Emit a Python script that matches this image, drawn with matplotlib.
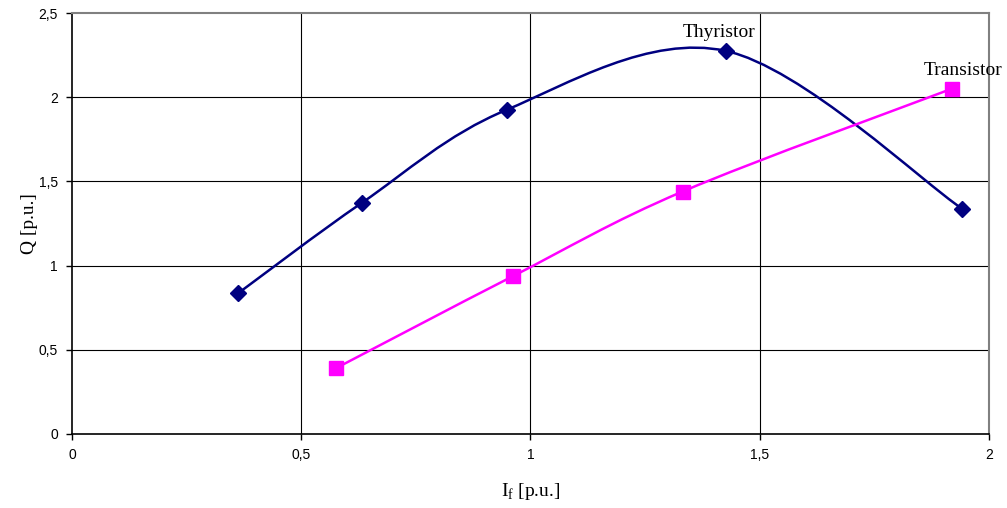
import matplotlib
matplotlib.use("Agg")
import matplotlib.pyplot as plt
from matplotlib.path import Path
from matplotlib.patches import PathPatch
import numpy as np

thy_x = [0.362, 0.633, 0.948, 1.426, 1.941]
thy_y = [0.835, 1.374, 1.925, 2.275, 1.339]
tra_x = [0.576, 0.961, 1.332, 1.919]
tra_y = [0.391, 0.936, 1.440, 2.050]
x_ticks = [0, 0.5, 1, 1.5, 2]
x_ticklabels = ["0", "0,5", "1", "1,5", "2"]
y_ticks = [0, 0.5, 1, 1.5, 2, 2.5]
y_ticklabels = ["0", "0,5", "1", "1,5", "2", "2,5"]

NAVY = "#000080"
MAGENTA = "#FF00FF"


def smooth_path(xs, ys):
    p = np.column_stack([xs, ys])
    n = len(p)
    verts = [tuple(p[0])]
    codes = [Path.MOVETO]
    for i in range(n - 1):
        p0 = p[i - 1] if i > 0 else p[i]
        p1 = p[i]
        p2 = p[i + 1]
        p3 = p[i + 2] if i + 2 < n else p[i + 1]
        c1 = p1 + (p2 - p0) / 6.0
        c2 = p2 - (p3 - p1) / 6.0
        verts += [tuple(c1), tuple(c2), tuple(p2)]
        codes += [Path.CURVE4] * 3
    return Path(verts, codes)


fig = plt.figure(figsize=(10.07, 5.08), dpi=100)
ax = fig.add_axes([0.0715, 0.1457, 0.9105, 0.8287])
ax.set_xlim(0, 2)
ax.set_ylim(0, 2.5)

for xv in x_ticks[1:-1]:
    ax.axvline(xv, color="black", lw=0.8, zorder=1)
for yv in y_ticks[1:-1]:
    ax.axhline(yv, color="black", lw=0.8, zorder=1)

ax.add_patch(PathPatch(smooth_path(thy_x, thy_y), fc="none", ec=NAVY, lw=1.8, zorder=3))
ax.add_patch(PathPatch(smooth_path(tra_x, tra_y), fc="none", ec=MAGENTA, lw=1.8, zorder=3))
ax.plot(thy_x, thy_y, ls="none", marker="D", ms=8, color=NAVY, zorder=4)
ax.plot(tra_x, tra_y, ls="none", marker="s", ms=10, color=MAGENTA, zorder=4)

ax.text(thy_x[3] - 0.014, thy_y[3] + 0.06, "Thyristor", family="Liberation Serif",
        fontsize=14, ha="center", va="bottom")
ax.text(tra_x[3] + 0.025, tra_y[3] + 0.06, "Transistor", family="Liberation Serif",
        fontsize=14, ha="center", va="bottom")

ax.set_xticks(x_ticks)
ax.set_xticklabels(x_ticklabels, family="Liberation Sans", fontsize=10)
ax.set_yticks(y_ticks)
ax.set_yticklabels(y_ticklabels, family="Liberation Sans", fontsize=10)
ax.tick_params(direction="out", length=4, width=1, pad=6)

for s in ["left", "bottom"]:
    ax.spines[s].set_color("black")
    ax.spines[s].set_linewidth(1.2)
for s in ["top", "right"]:
    ax.spines[s].set_color("#808080")
    ax.spines[s].set_linewidth(1.5)

ax.set_xlabel(r"I$_\mathregular{f}$ [p.u.]", family="Liberation Serif", fontsize=14)
ax.xaxis.set_label_coords(0.5, -0.112)
ax.set_ylabel("Q [p.u.]", family="Liberation Serif", fontsize=14)
ax.yaxis.set_label_coords(-0.037, 0.5)

fig.savefig("out.png", dpi=100)
